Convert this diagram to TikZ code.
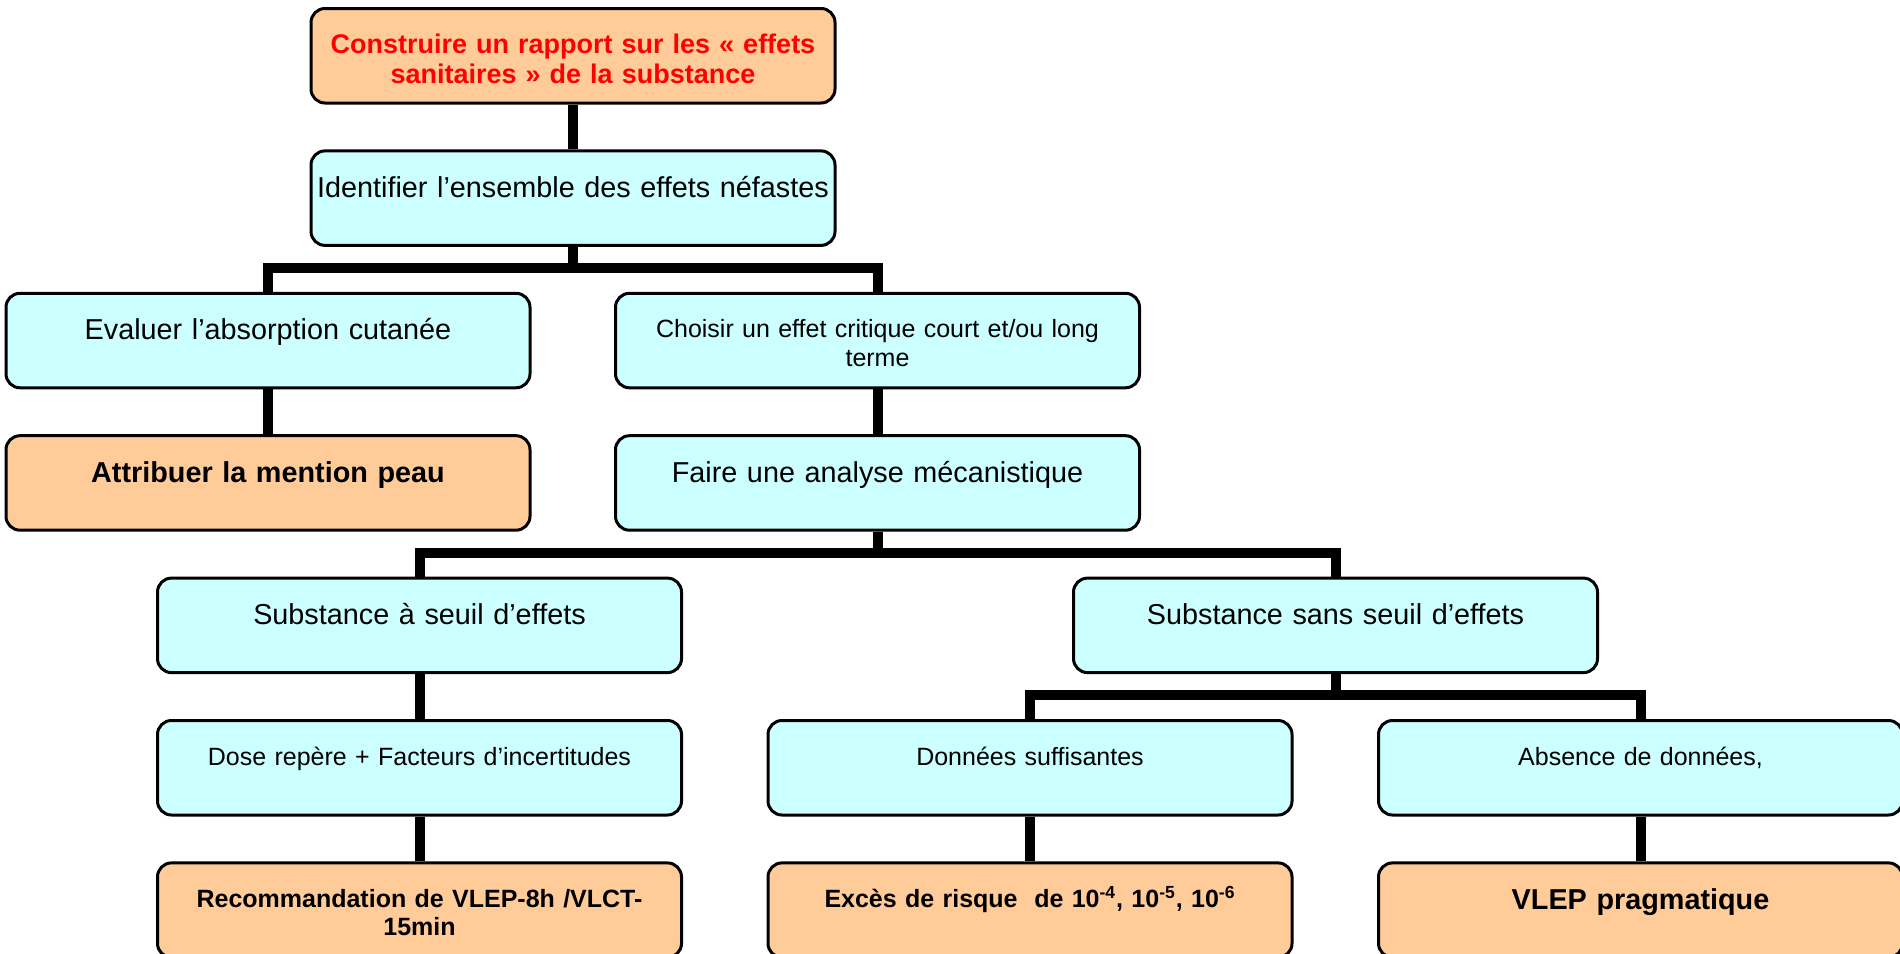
\documentclass[tikz,border=0pt]{standalone}
\usepackage{fontspec}
\setmainfont{Liberation Sans}
\usepackage{tikz}

\definecolor{boxcyan}{RGB}{204,255,255}
\definecolor{boxorange}{RGB}{255,204,153}
\newcommand{\bigtxt}{\fontsize{14.4}{16.5}\selectfont}
\newcommand{\smalltxt}{\fontsize{12.5}{14.2}\selectfont}
\newcommand{\titletxt}{\fontsize{13.5}{15.4}\selectfont\bfseries}

\begin{document}
\begin{tikzpicture}[x=0.5pt,y=0.5pt,yscale=-1,xscale=1,
	box/.style={draw=black,line width=1.5pt,rounded corners=7pt,minimum width=262pt,
		text width=259pt,align=center,inner xsep=1.5pt,inner ysep=0pt},
	cyanbox/.style={box,fill=boxcyan},
	orangebox/.style={box,fill=boxorange},
	bigline/.style={font=\bigtxt,text height=23.2pt,text depth=24.05pt},
	smallline/.style={font=\smalltxt,text height=22.3pt,text depth=24.95pt},
	link/.style={line width=5pt,line join=miter}]
	\useasboundingbox (0,0) rectangle (1900,953);
	
	%Rounded Rect: top
	\node [orangebox,smallline,font=\titletxt,text=red] (report) at (573,55.75) {Construire un rapport sur les « effets\\sanitaires » de la substance};
	%Rounded Rect
	\node [cyanbox,bigline] (ident) at (573,198.15) {Identifier l’ensemble des effets néfastes};
	%Rounded Rect
	\node [cyanbox,bigline] (eval) at (268,340.55) {Evaluer l’absorption cutanée};
	%Rounded Rect
	\node [cyanbox,smallline] (choose) at (877.5,340.55) {Choisir un effet critique court et/ou long\\terme};
	%Rounded Rect
	\node [orangebox,bigline,font=\bigtxt\bfseries] (skin) at (268,482.95) {Attribuer la mention peau};
	%Rounded Rect
	\node [cyanbox,bigline] (mech) at (877.5,482.95) {Faire une analyse mécanistique};
	%Rounded Rect
	\node [cyanbox,bigline] (thresh) at (419.5,625.35) {Substance à seuil d’effets};
	%Rounded Rect
	\node [cyanbox,bigline] (nothresh) at (1335.5,625.35) {Substance sans seuil d’effets};
	%Rounded Rect
	\node [cyanbox,smallline] (dose) at (419.5,767.75) {Dose repère + Facteurs d’incertitudes};
	%Rounded Rect
	\node [cyanbox,smallline] (enough) at (1030,767.75) {Données suffisantes};
	%Rounded Rect
	\node [cyanbox,smallline] (lack) at (1640.5,767.75) {Absence de données,};
	%Rounded Rect: bottom row
	\node [orangebox,smallline,font=\smalltxt\bfseries] (vlep) at (419.5,910.15) {Recommandation de VLEP-8h /VLCT-\\15min};
	%Rounded Rect
	\node [orangebox,smallline,font=\smalltxt\bfseries] (excess) at (1030,910.15) {Excès de risque~ de 10\textsuperscript{-4}, 10\textsuperscript{-5}, 10\textsuperscript{-6}};
	%Rounded Rect
	\node [orangebox,bigline,font=\bigtxt\bfseries] (prag) at (1640.5,910.15) {VLEP pragmatique};
	
	%Straight Lines
	\draw [link] (report.south) -- (ident.north) ;
	\draw [link] (eval.north) -- ++(0,-24) -| (ident.south) ;
	\draw [link] (choose.north) -- ++(0,-24) -| (ident.south) ;
	\draw [link] (eval.south) -- (skin.north) ;
	\draw [link] (choose.south) -- (mech.north) ;
	\draw [link] (thresh.north) -- ++(0,-24) -| (mech.south) ;
	\draw [link] (nothresh.north) -- ++(0,-24) -| (mech.south) ;
	\draw [link] (thresh.south) -- (dose.north) ;
	\draw [link] (dose.south) -- (vlep.north) ;
	\draw [link] (enough.north) -- ++(0,-24) -| (nothresh.south) ;
	\draw [link] (lack.north) -- ++(0,-24) -| (nothresh.south) ;
	\draw [link] (enough.south) -- (excess.north) ;
	\draw [link] (lack.south) -- (prag.north) ;
	
\end{tikzpicture}
\end{document}
